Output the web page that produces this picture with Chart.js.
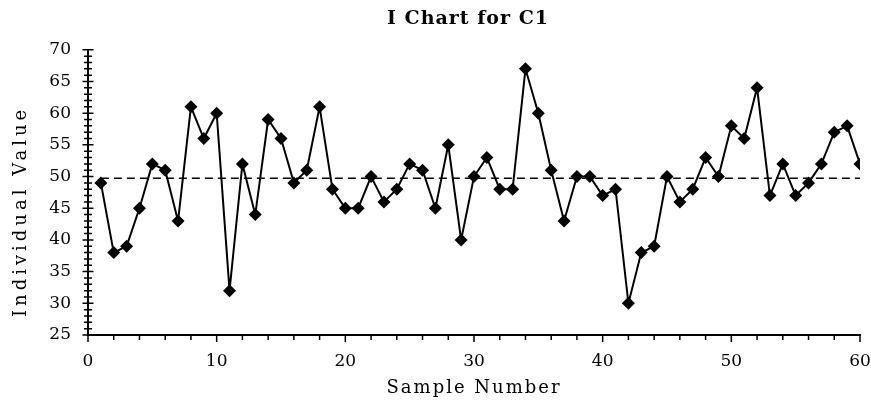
<!DOCTYPE html>
<html>
<head>
<meta charset="utf-8">
<title>I Chart for C1</title>
<script src="https://cdn.jsdelivr.net/npm/chart.js@4.4.0/dist/chart.umd.min.js"></script>
<style>
  html, body { margin: 0; padding: 0; background: #fff; }
</style>
</head>
<body>
<canvas id="iChart" width="871" height="404"></canvas>
<script>
// Data
const sampleNumbers = [1, 2, 3, 4, 5, 6, 7, 8, 9, 10,
    11, 12, 13, 14, 15, 16, 17, 18, 19, 20,
    21, 22, 23, 24, 25, 26, 27, 28, 29, 30,
    31, 32, 33, 34, 35, 36, 37, 38, 39, 40,
    41, 42, 43, 44, 45, 46, 47, 48, 49, 50,
    51, 52, 53, 54, 55, 56, 57, 58, 59, 60];
const individualValues = [49, 38, 39, 45, 52, 51, 43, 61, 56, 60,
    32, 52, 44, 59, 56, 49, 51, 61, 48, 45,
    45, 50, 46, 48, 52, 51, 45, 55, 40, 50,
    53, 48, 48, 67, 60, 51, 43, 50, 50, 47,
    48, 30, 38, 39, 50, 46, 48, 53, 50, 58,
    56, 64, 47, 52, 47, 49, 52, 57, 58, 52];
const centerLine = 49.73;
const centerLineSpan = [1, 60];

// Axis ranges
const xRange = [0, 60];
const yRange = [25, 70];

const serif = "'DejaVu Serif', 'Liberation Serif', serif";

// Wraps a draw function so its text gets extra letter spacing / offset
function withTextStyle(fn, spacing, dx, dy) {
    return function () {
        const ctx = this.ctx;
        ctx.save();
        ctx.letterSpacing = spacing;
        ctx.translate(dx, dy);
        fn.apply(this, arguments);
        ctx.restore();
    };
}

const textTweaks = {
    id: 'textTweaks',
    beforeDraw(chart) {
        if (chart._textTweaked) return;
        chart._textTweaked = true;
        const sx = chart.scales.x;
        const sy = chart.scales.y;
        sx.drawTitle = withTextStyle(sx.drawTitle, '2px', 0, 0);
        sy.drawTitle = withTextStyle(sy.drawTitle, '4px', 0, 19);
        chart.titleBlock.draw = withTextStyle(chart.titleBlock.draw, '1px', -6, 0);
    }
};

// Minor / major tick marks like the original (y every 1, x every 2)
const tickMarks = {
    id: 'tickMarks',
    afterDraw(chart) {
        const { ctx, scales: { x, y } } = chart;
        const axisX = x.left;
        const axisY = y.bottom;
        ctx.save();
        ctx.strokeStyle = '#000';
        ctx.lineWidth = 1.5;
        ctx.beginPath();
        for (let v = y.min; v <= y.max; v++) {
            const py = y.getPixelForValue(v);
            const half = v % 5 === 0 ? 5.5 : 4;
            ctx.moveTo(axisX - half, py);
            ctx.lineTo(axisX + half, py);
        }
        for (let v = x.min; v <= x.max; v += 2) {
            const px = x.getPixelForValue(v);
            const len = v % 10 === 0 ? 7 : 5;
            ctx.moveTo(px, axisY);
            ctx.lineTo(px, axisY + len);
        }
        ctx.stroke();
        ctx.restore();
    }
};

const ctx = document.getElementById('iChart').getContext('2d');
new Chart(ctx, {
    type: 'line',
    data: {
        datasets: [{
            label: 'C1',
            data: sampleNumbers.map((n, i) => ({ x: n, y: individualValues[i] })),
            borderColor: '#000',
            backgroundColor: '#000',
            borderWidth: 2,
            tension: 0,
            pointStyle: 'rectRot',
            pointRadius: 6.5,
            pointHoverRadius: 6.5,
            pointBorderWidth: 0,
            fill: false
        }, {
            label: 'Mean',
            data: centerLineSpan.map(n => ({ x: n, y: centerLine })),
            borderColor: '#000',
            borderWidth: 1.5,
            borderDash: [8, 5],
            pointRadius: 0,
            fill: false
        }]
    },
    options: {
        responsive: false,
        animation: false,
        layout: { autoPadding: false, padding: { top: 0, left: 0, right: 11, bottom: 0 } },
        plugins: {
            legend: { display: false },
            tooltip: { enabled: false },
            title: {
                display: true,
                text: 'I Chart for C1',
                color: '#000',
                fullSize: false,
                font: { family: serif, size: 19, weight: 'bold' },
                padding: { top: 8, bottom: 19 }
            }
        },
        scales: {
            x: {
                type: 'linear',
                min: xRange[0],
                max: xRange[1],
                grid: { display: false, drawTicks: false },
                border: { display: true, color: '#000', width: 2 },
                ticks: {
                    stepSize: 10,
                    color: '#000',
                    padding: 16,
                    maxRotation: 0,
                    font: { family: serif, size: 17 }
                },
                title: {
                    display: true,
                    text: 'Sample Number',
                    color: '#000',
                    font: { family: serif, size: 18 },
                    padding: { top: 5, bottom: 5 }
                },
                afterFit(scale) {
                    scale.height = 69;
                    scale.paddingLeft = 0;
                    scale.paddingRight = 0;
                }
            },
            y: {
                min: yRange[0],
                max: yRange[1],
                grid: { display: false, drawTicks: false },
                border: { display: true, color: '#000', width: 2 },
                ticks: {
                    stepSize: 5,
                    color: '#000',
                    padding: 17,
                    font: { family: serif, size: 17 }
                },
                title: {
                    display: true,
                    text: 'Individual Value',
                    color: '#000',
                    font: { family: serif, size: 18 },
                    padding: { top: 11, bottom: 11 }
                },
                afterFit(scale) { scale.width = 88; }
            }
        }
    },
    plugins: [textTweaks, tickMarks]
});
</script>
</body>
</html>
